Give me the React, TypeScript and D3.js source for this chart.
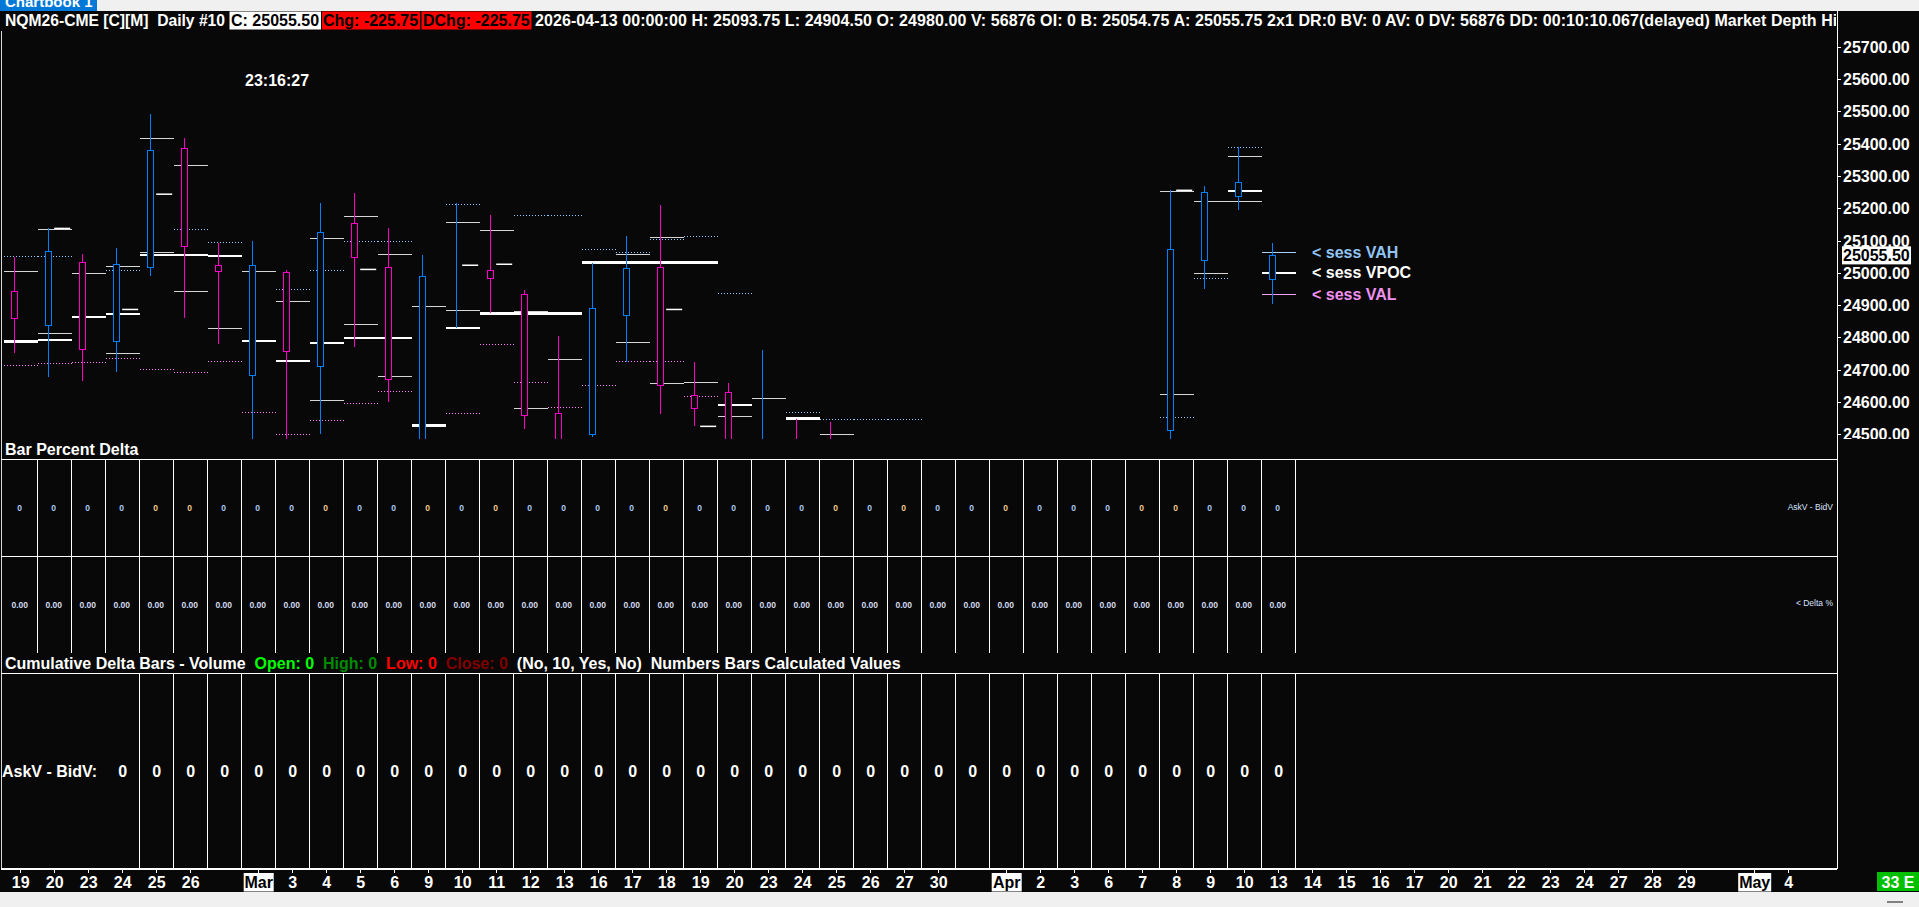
import * as d3 from "d3"

// ---- data ----
const DATE_LABELS = [
  "19", "20", "23", "24", "25", "26", "", "Mar", "3", "4", "5", "6", "9", "10", "11", "12", "13",
  "16", "17", "18", "19", "20", "23", "24", "25", "26", "27", "30", "", "Apr", "2", "3", "6", "7",
  "8", "9", "10", "13", "14", "15", "16", "17", "20", "21", "22", "23", "24", "27", "28", "29", "",
  "May", "4",
]
const MONTHS = ["Mar", "Apr", "May"]

const OPEN = [
  24944, 24839, 25034, 24789, 25019, 25387, 25025, 24684, 25003, 24712, 25155, 25019, 24420,
  24981, 25009, 24935, 24566, 24501, 24870, 25019, 24622, 24631, 24300, 24430, 24420, 24400,
  24180, 23900, 23800, 24200, 24350, 24100, 24250, 24380, 24513, 25040, 25238.5, 24980,
]
const HIGH = [
  25051, 25139, 25060, 25078, 25493, 25419, 25095, 25100, 25010, 25218, 25249, 25140, 25057,
  25217, 25181, 24947, 24806, 25031, 25115, 25212, 24725, 24660, 24762, 24549, 24540, 24440,
  24220, 24050, 24250, 24400, 24420, 24300, 24430, 24440, 25257, 25270, 25390, 25093.75,
]
const LOW = [
  24752, 24680, 24667, 24695, 24993, 24862, 24782, 24440, 24470, 24501, 24773, 24602, 24380,
  24831, 24876, 24519, 24400, 24492, 24726, 24565, 24527, 24380, 24250, 24300, 24280, 24150,
  23850, 23700, 23780, 24100, 24000, 24050, 24200, 24220, 24420, 24952, 25195, 24904.5,
]
const CLOSE = [
  24861, 25067, 24765, 25028, 25381, 25084, 25006, 25025, 24758, 25127, 25050, 24672, 24991,
  24981, 24983, 24560, 24440, 24892, 25015, 24653, 24581, 24400, 24420, 24380, 24360, 24180,
  23900, 23800, 24200, 24350, 24100, 24250, 24380, 24300, 25074, 25251, 25281.25, 25055.5,
]

// prior value area high (dotted blue), value area low (dotted pink), volume POC (thick white)
const PRIOR_VAH = [
  25053, 25053, null, 25009, 25059, 25136, 25096, null, 24950, 25009, 25099, 25099, null,
  25214, null, 25180, 25180, 25075, 25065, 25105, 25115, 24938, null, 24570, 24548, 24548,
  24548, null, null, null, null, null, null, null, 24554, 24985, 25390, null,
]
const PRIOR_VAL = [
  24715, 24721, 24724, 24737, 24703, 24693, 24727, 24570, 24501, 24545, 24597, 24635, null,
  24566, 24780, 24662, 24585, 24653, 24727, 24727, 24619, null, null, null, null, null,
  null, null, null, null, null, null, null, null, null, null, null, null,
]
const VPOC = [
  24789, 24794, 24865, 24874, 25057, 25057, 25053, 24791, 24728, 24784, 24800, 24800, 24528,
  24831, 24875, 24875, 24875, 25033, 25033, 25033, 25033, 24592, null, 24550, null, null,
  null, null, null, null, null, null, null, null, null, null, 25255, null,
]
const GRAY_HI = [
  25006, 25136, 25000, 25022, 25418, 25334, null, 25006, 24913, 25108, 25176, 25059, 24898,
  25158, 25133, 24882, 24734, null, 25059, 25111, 24662, 24557, 24613, null, 24501, null,
  null, null, null, null, null, null, null, null, 25254, 25221, 25363, null,
]
const GRAY_LO = [
  null, 24814, null, 24752, 25065, 24944, 24830, null, null, 24607, 24842, 24681, null,
  24885, null, 24582, null, null, 24786, 24659, null, null, null, null, null, null,
  null, null, null, null, null, null, null, null, 24625, 25000, 25221, null,
]
const MID_TICK = [
  null, 25139, null, 24888, 25245, null, null, null, null, null, 25012, null, null,
  25025, 25028, null, null, null, null, 24888, 24526, null, null, null, null, null,
  null, null, null, null, null, null, null, null, 25257, null, null, null,
]

const SESS_LEVELS = [25065, 25001, 24933]
const SESS_LABELS = ["< sess VAH", "< sess VPOC", "< sess VAL"]

const BAR_DELTA = [
  0, 0, 0, 0, 0, 0, 0, 0, 0, 0, 0, 0, 0, 0, 0, 0, 0, 0, 0,
  0, 0, 0, 0, 0, 0, 0, 0, 0, 0, 0, 0, 0, 0, 0, 0, 0, 0, 0,
]
const DELTA_PCT = [
  0, 0, 0, 0, 0, 0, 0, 0, 0, 0, 0, 0, 0, 0, 0, 0, 0, 0, 0,
  0, 0, 0, 0, 0, 0, 0, 0, 0, 0, 0, 0, 0, 0, 0, 0, 0, 0, 0,
]
const ASKV_BIDV = [
  0, 0, 0, 0, 0, 0, 0, 0, 0, 0, 0, 0, 0, 0, 0, 0, 0, 0, 0,
  0, 0, 0, 0, 0, 0, 0, 0, 0, 0, 0, 0, 0, 0, 0, 0, 0, 0, 0,
]

const LAST_PRICE = 25055.5
const PRICE_TICKS = d3.range(24500, 25701, 100)

const HEADER_MAIN = "NQM26-CME [C][M]  Daily #10"
const HEADER_C = "C: 25055.50"
const HEADER_CHG = "Chg: -225.75"
const HEADER_DCHG = "DChg: -225.75"
const HEADER_REST =
  "2026-04-13 00:00:00 H: 25093.75 L: 24904.50 O: 24980.00 V: 56876 OI: 0 B: 25054.75 A: 25055.75 2x1 DR:0 BV: 0 AV: 0 DV: 56876 DD: 00:10:10.067(delayed) Market Depth Historical Data"

// ---- layout ----
const W = 1919
const H = 907
const BG = "#080808"
const FONT = "'Liberation Sans', Arial, Helvetica, sans-serif"
const BLUE = "#0080ff"
const PINK = "#ff00c8"
const AXIS_X = 1837
const PRICE_TOP = 31
const PRICE_BOT = 439
const SEP1 = 459.5
const SEP2 = 556.5
const SEP3 = 673.5
const FRAME_B = 869
const SLOT = 34

export default function App() {
  const x = d3.scaleLinear().domain([0, DATE_LABELS.length]).range([3.7, 3.7 + SLOT * DATE_LABELS.length])
  const y = d3.scaleLinear().domain([24500, 25700]).range([434.75, 47.27])
  const cx = (i: number) => Math.floor(x(i) + 10.6) + 0.5
  const mid = (i: number) => x(i) + SLOT / 2
  const bars = d3.range(OPEN.length)

  const seg = (i: number, v: number | null, stroke: string, w: number, dash?: string, key?: string) =>
    v == null ? null : (
      <line
        key={key}
        x1={x(i)}
        x2={x(i + 1)}
        y1={y(v)}
        y2={y(v)}
        stroke={stroke}
        strokeWidth={w}
        strokeDasharray={dash}
        shapeRendering="crispEdges"
      />
    )

  const txt = { fontFamily: FONT, fontWeight: 700, fontSize: 16, whiteSpace: "pre" as const }
  const small = { ...txt, fontSize: 8.5 }

  return (
    <div style={{ position: "fixed", left: 0, top: 0, width: W, height: H, overflow: "hidden" }}>
      <svg width={W} height={H} style={{ display: "block", background: BG }}>
        <defs>
          <clipPath id="pricePane">
            <rect x={1} y={PRICE_TOP} width={AXIS_X - 1} height={PRICE_BOT - PRICE_TOP} />
          </clipPath>
          <clipPath id="priceAxis">
            <rect x={AXIS_X} y={PRICE_TOP} width={W - AXIS_X} height={PRICE_BOT - PRICE_TOP} />
          </clipPath>
          <clipPath id="header">
            <rect x={0} y={11} width={AXIS_X - 1} height={20} />
          </clipPath>
          <clipPath id="tab">
            <rect x={0} y={0} width={97} height={11} />
          </clipPath>
        </defs>

        <rect width={W} height={H} fill={BG} />

        {/* window chrome */}
        <rect x={0} y={0} width={W} height={11} fill="#f0f0f0" />
        <rect x={0} y={0} width={97} height={11} fill="#0078d7" />
        <text x={5} y={7} fill="#fff" clipPath="url(#tab)" style={{ ...txt, fontSize: 15 }}>
          Chartbook 1
        </text>

        {/* header */}
        <g clipPath="url(#header)">
          <text x={5} y={26} fill="#fff" style={txt} textLength={220} lengthAdjust="spacingAndGlyphs">
            {HEADER_MAIN}
          </text>
          <rect x={229.5} y={11.5} width={91.5} height={18} fill="#fff" />
          <text x={231} y={26} fill="#000" style={txt}>{HEADER_C}</text>
          <rect x={322} y={11.5} width={98} height={18} fill="#ff0000" />
          <text x={323} y={26} fill="#000" style={txt}>{HEADER_CHG}</text>
          <rect x={421.5} y={11.5} width={110} height={18} fill="#ff0000" />
          <text x={423} y={26} fill="#000" style={txt}>{HEADER_DCHG}</text>
          <text x={535} y={26} fill="#fff" style={{ ...txt, letterSpacing: 0.08 }}>{HEADER_REST}</text>
        </g>

        <text x={245} y={80} fill="#fff" dominantBaseline="central" style={txt}>23:16:27</text>

        {/* price pane */}
        <g clipPath="url(#pricePane)">
          {bars.map((i) => (
            <g key={`lv${i}`}>
              {seg(i, GRAY_HI[i], "#d6d6d6", 1)}
              {seg(i, GRAY_LO[i], "#d6d6d6", 1)}
              {seg(i, PRIOR_VAH[i], "#8cc8ff", 1, "1.5,1.5")}
              {seg(i, PRIOR_VAL[i], "#ff80ff", 1, "1.5,1.5")}
              {seg(i, VPOC[i], "#ffffff", 2.5)}
              {MID_TICK[i] != null && (
                <line
                  x1={cx(i) + 5.7}
                  x2={cx(i) + 21.7}
                  y1={y(MID_TICK[i] as number)}
                  y2={y(MID_TICK[i] as number)}
                  stroke="#ffffff"
                  strokeWidth={1.5}
                />
              )}
            </g>
          ))}

          {/* current session levels */}
          {SESS_LEVELS.map((v, k) => {
            const i = OPEN.length - 1
            const col = ["#a8d0f8", "#ffffff", "#f0a0f0"][k]
            return seg(i, v, col, k === 1 ? 2.5 : 1, undefined, `s${k}`)
          })}

          {bars.map((i) => {
            const up = CLOSE[i] >= OPEN[i]
            const col = up ? BLUE : PINK
            const top = y(Math.max(OPEN[i], CLOSE[i]))
            const bot = y(Math.min(OPEN[i], CLOSE[i]))
            return (
              <g key={`c${i}`} shapeRendering="crispEdges">
                <line x1={cx(i)} x2={cx(i)} y1={y(HIGH[i])} y2={y(LOW[i])} stroke={col} strokeWidth={1} />
                <rect
                  x={cx(i) - 3}
                  y={top}
                  width={6}
                  height={Math.max(0, bot - top)}
                  fill={BG}
                  stroke={col}
                  strokeWidth={1}
                />
              </g>
            )
          })}
        </g>

        {/* session legend */}
        {SESS_LABELS.map((s, k) => (
          <text
            key={s}
            x={1312}
            y={y(SESS_LEVELS[k])}
            dominantBaseline="central"
            fill={["#90c4f4", "#ffffff", "#f090f0"][k]}
            style={txt}
          >
            {s}
          </text>
        ))}

        {/* price axis */}
        <line x1={AXIS_X} x2={AXIS_X} y1={11} y2={FRAME_B} stroke="#fff" strokeWidth={1} shapeRendering="crispEdges" />
        <g clipPath="url(#priceAxis)">
          {PRICE_TICKS.map((p) => (
            <g key={p}>
              <line x1={AXIS_X} x2={AXIS_X + 4} y1={y(p)} y2={y(p)} stroke="#fff" shapeRendering="crispEdges" />
              <text x={1843} y={y(p)} dominantBaseline="central" fill="#fff" style={txt}>
                {d3.format(".2f")(p)}
              </text>
            </g>
          ))}
          <rect x={1842} y={y(LAST_PRICE) - 9} width={69} height={18} fill="#fff" />
          <text x={1843} y={y(LAST_PRICE)} dominantBaseline="central" fill="#000" style={txt}>
            {d3.format(".2f")(LAST_PRICE)}
          </text>
        </g>

        {/* frame and pane separators */}
        <line x1={1} x2={1} y1={PRICE_TOP} y2={FRAME_B} stroke="#d8d8d8" shapeRendering="crispEdges" />
        {[SEP1, SEP2, SEP3, FRAME_B].map((s) => (
          <line key={s} x1={1} x2={AXIS_X} y1={s} y2={s} stroke="#fff" strokeWidth={1.5} shapeRendering="crispEdges" />
        ))}

        <text x={5} y={449} dominantBaseline="central" fill="#fff" style={txt}>Bar Percent Delta</text>

        {/* bar percent delta: two rows */}
        {bars.map((i) => (
          <g key={`d${i}`}>
            <line x1={x(i + 1)} x2={x(i + 1)} y1={SEP1} y2={SEP2} stroke="#fff" shapeRendering="crispEdges" />
            <line x1={x(i + 1)} x2={x(i + 1)} y1={SEP2} y2={653} stroke="#fff" shapeRendering="crispEdges" />
            <text
              x={mid(i) - 1}
              y={507.7}
              textAnchor="middle"
              dominantBaseline="central"
              fill={i % 5 === 4 || i % 7 === 5 ? "#f0c890" : "#a8ccf8"}
              style={small}
            >
              {BAR_DELTA[i]}
            </text>
            <text
              x={mid(i) - 1}
              y={604.7}
              textAnchor="middle"
              dominantBaseline="central"
              fill="#d4dcf0"
              style={small}
            >
              {d3.format(".2f")(DELTA_PCT[i])}
            </text>
          </g>
        ))}
        <text x={1833} y={506.7} textAnchor="end" dominantBaseline="central" fill="#d8e4ff" style={{ ...small, fontWeight: 400 }}>
          AskV - BidV
        </text>
        <text x={1833} y={602.7} textAnchor="end" dominantBaseline="central" fill="#d8e4ff" style={{ ...small, fontWeight: 400 }}>
          {"< Delta %"}
        </text>

        {/* cumulative delta pane */}
        <text x={5} y={663.3} dominantBaseline="central" style={txt}>
          <tspan fill="#fff">{"Cumulative Delta Bars - Volume  "}</tspan>
          <tspan fill="#00ff00">{"Open: 0  "}</tspan>
          <tspan fill="#008a00">{"High: 0  "}</tspan>
          <tspan fill="#ff0000">{"Low: 0  "}</tspan>
          <tspan fill="#800000">{"Close: 0  "}</tspan>
          <tspan fill="#fff">{"(No, 10, Yes, No)  Numbers Bars Calculated Values"}</tspan>
        </text>
        {bars
          .filter((i) => i >= 3)
          .map((i) => (
            <g key={`a${i}`}>
              <line x1={x(i + 1)} x2={x(i + 1)} y1={SEP3} y2={FRAME_B} stroke="#fff" shapeRendering="crispEdges" />
              <text x={mid(i)} y={771.7} textAnchor="middle" dominantBaseline="central" fill="#fff" style={txt}>
                {ASKV_BIDV[i]}
              </text>
            </g>
          ))}
        <text x={2} y={771.7} dominantBaseline="central" fill="#fff" style={txt}>AskV - BidV:</text>

        {/* date axis */}
        {DATE_LABELS.map((d, i) =>
          d === "" ? null : (
            <g key={`t${i}`}>
              <line x1={mid(i)} x2={mid(i)} y1={FRAME_B} y2={FRAME_B + 3.5} stroke="#fff" shapeRendering="crispEdges" />
              {MONTHS.includes(d) && (
                <rect x={mid(i) - (d === "May" ? 16.5 : 15)} y={873} width={d === "May" ? 33 : 30} height={18.5} fill="#fff" />
              )}
              <text
                x={mid(i)}
                y={882}
                textAnchor="middle"
                dominantBaseline="central"
                fill={MONTHS.includes(d) ? "#000" : "#fff"}
                style={txt}
              >
                {d}
              </text>
            </g>
          )
        )}

        <rect x={1877} y={872} width={42} height={19} fill="#00c000" />
        <text x={1898} y={882} textAnchor="middle" dominantBaseline="central" fill="#fff" style={txt}>33 E</text>

        <rect x={0} y={892} width={W} height={H - 892} fill="#f0f0f0" />
        <line x1={1887} x2={1903} y1={902} y2={902} stroke="#808080" strokeWidth={2} />
      </svg>
    </div>
  )
}
